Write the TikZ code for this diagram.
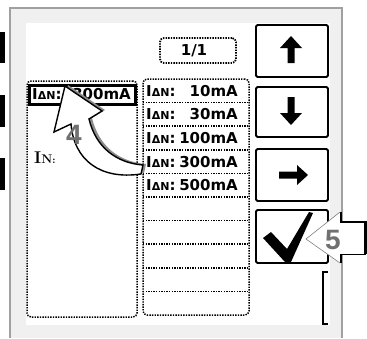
\documentclass[tikz,border=0pt]{standalone}
\usepackage{fontspec}
\newfontfamily\lcd{DejaVu Sans}
\newfontfamily\callfont{Liberation Sans}
\definecolor{framegray}{HTML}{A0A0A0}
\definecolor{lightbg}{HTML}{F0F0F0}
\definecolor{numgray}{HTML}{707070}
\definecolor{shadowgray}{HTML}{8C8C8C}
\newcommand\IdN{{\fontsize{15}{15}\selectfont I}{\fontsize{11}{11}\selectfont ΔN}:}
\begin{document}
\begin{tikzpicture}[x=1pt,y=-1pt,
  dotln/.style={line width=1.5pt, dash pattern=on 1.4pt off 1.2pt},
  btn/.style={draw=black, line width=1.8pt, rounded corners=1.5pt, fill=white, minimum width=72pt},
  lcdtxt/.style={inner sep=0pt, font=\lcd\bfseries\fontsize{15}{15}\selectfont},
  callnum/.style={inner sep=0pt, text=numgray, font=\callfont\bfseries\fontsize{28}{28}\selectfont},
  box/.style={inner sep=0pt, outer sep=0pt}
]
\useasboundingbox (0,0) rectangle (367,338);
\fill[white] (0,0) rectangle (367,338);
% device frame
\fill[lightbg] (10,8) rectangle (342,338);
\draw[framegray, line width=2pt] (10,338) -- (10,8) -- (342,8) -- (342,338);
\fill[white] (26,23) rectangle (330,325);
% soft keys at left edge
\fill[black] (0,32) rectangle (5,63);
\fill[black] (0,95) rectangle (5,127);
\fill[black] (0,158) rectangle (5,190);
% page indicator
\node[box, draw, dotln, line width=1.8pt, rounded corners=4pt, minimum width=76pt, minimum height=25pt] (page) at (198,50.5) {};
\node[lcdtxt] (pagetxt) at (194,50.5) {1/1};
% left panel
\node[box, draw, dotln, rounded corners=4pt, minimum width=110pt, minimum height=236pt] (leftpanel) at (82,199) {};
% right list column
\node[box, draw, dotln, rounded corners=4pt, minimum width=106pt, minimum height=236pt] (list) at (196,197) {};
\foreach \k in {1,...,9} {
  \draw[dotln] (143,79+23.6*\k) -- (249,79+23.6*\k);
}
\foreach \v [count=\i] in {10mA,30mA,100mA,300mA,500mA} {
  \node[lcdtxt, anchor=west] (lab\i) at (146,{79+23.6*\i-11.8}) {\IdN};
  \node[lcdtxt, anchor=east] (val\i) at (238,{79+23.6*\i-11.8}) {\v};
}
% selected value
\node[box, draw, line width=3pt, minimum width=106pt, minimum height=19pt] (sel) at (82,94.5) {};
\node[lcdtxt, anchor=west] (sellab) at (32,94.5) {\IdN};
\node[lcdtxt, anchor=east] (selval) at (131,94.5) {300mA};
% IN label
\node[inner sep=0pt, anchor=west, font=\bfseries] (inlab) at (34,158) {{\fontsize{17}{17}\selectfont I}{\fontsize{12.5}{12.5}\selectfont N}:};
% buttons
\node[btn, minimum height=52pt] (up) at (292,51) {};
\node[btn, minimum height=50pt] (down) at (292,112) {};
\node[btn, minimum height=52pt] (right) at (292,175) {};
\node[btn, minimum height=53pt] (ok) at (292,236.5) {};
\fill (291,36) -- (302,48) -- (294.5,48) -- (294.5,63) -- (287.5,63) -- (287.5,48) -- (280,48) -- cycle;
\fill (291,125) -- (302,113) -- (294.5,113) -- (294.5,97) -- (287.5,97) -- (287.5,113) -- (280,113) -- cycle;
\fill (308,175) -- (297,165) -- (297,171.5) -- (279,171.5) -- (279,178.5) -- (297,178.5) -- (297,185) -- cycle;
\fill (263,238) -- (271,232) -- (287,249) -- (309,212) -- (313,213) -- (291,262) -- (285,262) -- cycle;
% scroll bracket
\draw[line width=1.3pt] (328,272) -- (323,272) -- (323,324) -- (328,324);
% callout 4 (curved arrow)
\fill[shadowgray, shift={(3,-1)}] (65,86) -- (102,111) -- (89,119) .. controls (96,148) and (117,163) .. (143,165) -- (141,174) .. controls (100,180) and (74,160) .. (71,124) -- (54,132) -- cycle;
\draw[fill=white, line width=1.4pt, line join=miter] (65,86) -- (102,111) -- (89,119) .. controls (96,148) and (117,163) .. (143,165) -- (141,174) .. controls (100,180) and (74,160) .. (71,124) -- (54,132) -- cycle;
\node[callnum] (num4) at (74,135) {4};
% callout 5 (arrow pointing left)
\fill[white] (306,239) -- (340,212) -- (340,222) -- (366,222) -- (366,254) -- (340,254) -- (340,263) -- cycle;
\draw[gray, line width=0.6pt] (340,212) -- (306,239) -- (340,263);
\draw[black, line width=2.6pt] (341,212) -- (341,222) -- (365.5,222) -- (365.5,254);
\draw[black, line width=1pt] (365.5,254) -- (340,254);
\draw[black, line width=2.6pt] (341,254) -- (341,263);
\node[callnum] (num5) at (333,240) {5};
\end{tikzpicture}
\end{document}
